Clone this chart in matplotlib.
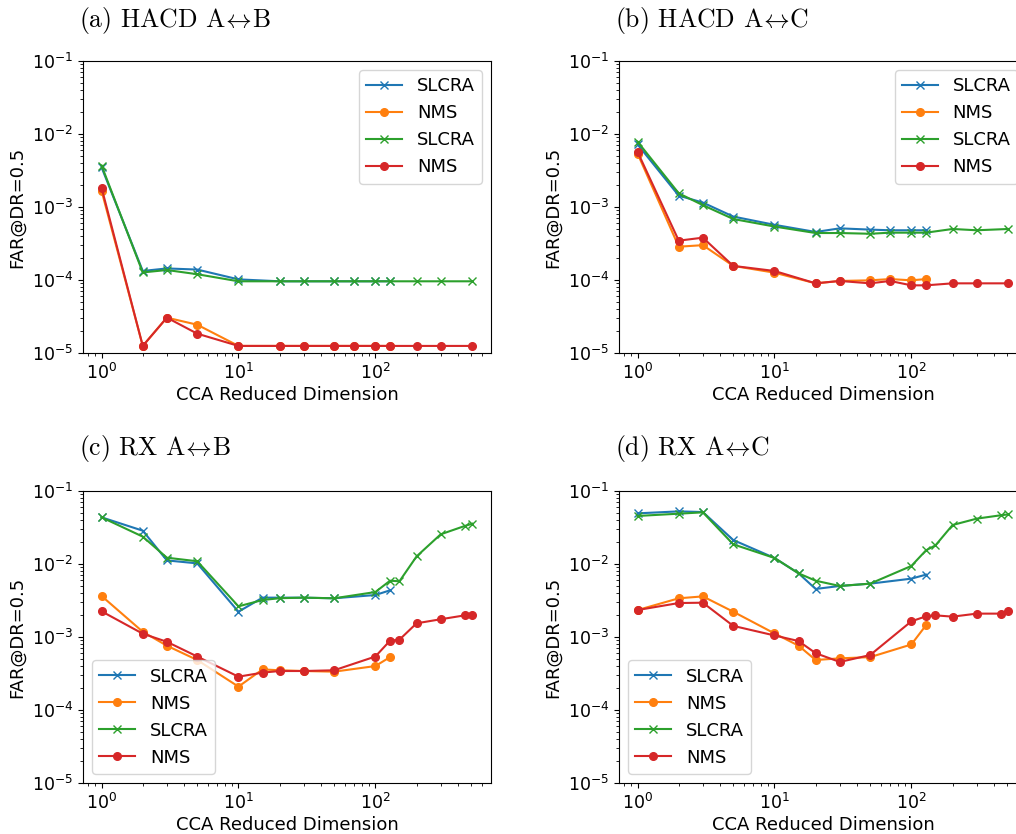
import matplotlib
matplotlib.use("Agg")
import matplotlib.pyplot as plt

plt.rcParams['mathtext.fontset'] = 'cm'
plt.rcParams['font.size'] = 13
plt.rcParams['xtick.labelsize'] = 12.5
plt.rcParams['ytick.labelsize'] = 12.5

# ---------------- data ----------------
titles = [r'(a) HACD A$\!\leftrightarrow\!$B', r'(b) HACD A$\!\leftrightarrow\!$C',
          r'(c) RX A$\!\leftrightarrow\!$B', r'(d) RX A$\!\leftrightarrow\!$C']
labels = ['SLCRA', 'NMS', 'SLCRA', 'NMS']

x_hacd_short = [1, 2, 3, 5, 10, 20, 30, 50, 70, 100, 128]
x_hacd_long = [1, 2, 3, 5, 10, 20, 30, 50, 70, 100, 128, 200, 300, 512]
x_rx_short = [1, 2, 3, 5, 10, 15, 20, 30, 50, 100, 128]
x_rx_long = [1, 2, 3, 5, 10, 15, 20, 30, 50, 100, 128, 150, 200, 300, 450, 512]

# (a) HACD A<->B
a_slcra1 = [3.5e-3, 1.33e-4, 1.44e-4, 1.39e-4, 1.02e-4, 9.6e-5, 9.6e-5, 9.6e-5, 9.6e-5, 9.6e-5, 9.6e-5]
a_nms1 = [1.67e-3, 1.25e-5, 3.05e-5, 2.44e-5, 1.25e-5, 1.25e-5, 1.25e-5, 1.25e-5, 1.25e-5, 1.25e-5, 1.25e-5]
a_slcra2 = [3.7e-3, 1.27e-4, 1.37e-4, 1.2e-4, 9.6e-5, 9.6e-5, 9.6e-5, 9.6e-5, 9.6e-5, 9.6e-5, 9.6e-5, 9.6e-5, 9.6e-5, 9.6e-5]
a_nms2 = [1.84e-3, 1.25e-5, 3.05e-5, 1.84e-5, 1.25e-5, 1.25e-5, 1.25e-5, 1.25e-5, 1.25e-5, 1.25e-5, 1.25e-5, 1.25e-5, 1.25e-5, 1.25e-5]

# (b) HACD A<->C
b_slcra1 = [7.2e-3, 1.43e-3, 1.15e-3, 7.4e-4, 5.7e-4, 4.55e-4, 5.1e-4, 4.9e-4, 4.8e-4, 4.8e-4, 4.8e-4]
b_nms1 = [5.4e-3, 2.86e-4, 3.0e-4, 1.56e-4, 1.26e-4, 9.0e-5, 9.7e-5, 9.9e-5, 1.03e-4, 9.9e-5, 1.03e-4]
b_slcra2 = [7.85e-3, 1.54e-3, 1.06e-3, 6.85e-4, 5.4e-4, 4.4e-4, 4.4e-4, 4.3e-4, 4.45e-4, 4.45e-4, 4.45e-4, 5.0e-4, 4.8e-4, 5.0e-4]
b_nms2 = [5.7e-3, 3.46e-4, 3.8e-4, 1.56e-4, 1.33e-4, 9.0e-5, 9.7e-5, 9.0e-5, 9.7e-5, 8.45e-5, 8.45e-5, 9.0e-5, 9.0e-5, 9.0e-5]

# (c) RX A<->B
c_slcra1 = [4.36e-2, 2.86e-2, 1.12e-2, 1.02e-2, 2.22e-3, 3.46e-3, 3.46e-3, 3.46e-3, 3.39e-3, 3.76e-3, 4.36e-3]
c_nms1 = [3.65e-3, 1.18e-3, 7.6e-4, 4.84e-4, 2.09e-4, 3.6e-4, 3.5e-4, 3.42e-4, 3.35e-4, 4.0e-4, 5.3e-4]
c_slcra2 = [4.36e-2, 2.37e-2, 1.22e-2, 1.09e-2, 2.63e-3, 3.21e-3, 3.4e-3, 3.46e-3, 3.39e-3, 4.13e-3, 5.9e-3, 5.8e-3, 1.27e-2, 2.55e-2, 3.32e-2, 3.57e-2]
c_nms2 = [2.25e-3, 1.11e-3, 8.6e-4, 5.4e-4, 2.86e-4, 3.25e-4, 3.42e-4, 3.42e-4, 3.5e-4, 5.4e-4, 8.9e-4, 9.2e-4, 1.54e-3, 1.75e-3, 1.98e-3, 2.0e-3]

# (d) RX A<->C
d_slcra1 = [4.94e-2, 5.26e-2, 5.15e-2, 2.13e-2, 1.21e-2, 7.45e-3, 4.55e-3, 5.0e-3, 5.38e-3, 6.3e-3, 7.15e-3]
d_nms1 = [2.34e-3, 3.39e-3, 3.6e-3, 2.22e-3, 1.12e-3, 7.6e-4, 4.84e-4, 5.1e-4, 5.3e-4, 7.9e-4, 1.45e-3]
d_slcra2 = [4.55e-2, 4.89e-2, 5.1e-2, 1.86e-2, 1.21e-2, 7.45e-3, 5.9e-3, 5.0e-3, 5.38e-3, 9.4e-3, 1.54e-2, 1.8e-2, 3.42e-2, 4.18e-2, 4.65e-2, 4.79e-2]
d_nms2 = [2.34e-3, 2.92e-3, 2.95e-3, 1.42e-3, 1.05e-3, 8.8e-4, 6.0e-4, 4.55e-4, 5.66e-4, 1.64e-3, 1.92e-3, 1.98e-3, 1.9e-3, 2.09e-3, 2.09e-3, 2.3e-3]

panels = [
    (x_hacd_short, x_hacd_long, a_slcra1, a_nms1, a_slcra2, a_nms2, 'upper right'),
    (x_hacd_short, x_hacd_long, b_slcra1, b_nms1, b_slcra2, b_nms2, 'upper right'),
    (x_rx_short, x_rx_long, c_slcra1, c_nms1, c_slcra2, c_nms2, 'lower left'),
    (x_rx_short, x_rx_long, d_slcra1, d_nms1, d_slcra2, d_nms2, 'lower left'),
]

W, H = 1016, 834
fig = plt.figure(figsize=(W / 100, H / 100), dpi=100)

# axes boxes in pixels: left, right, top, bottom
boxes = [(83, 491, 61, 353), (619, 1027, 61, 353),
         (83, 491, 491, 783), (619, 1027, 491, 783)]
title_pos = [(79, 20), (615, 20), (79, 448), (615, 448)]

for i, (xs, xl, s1, n1, s2, n2, loc) in enumerate(panels):
    l, r, t, b = boxes[i]
    ax = fig.add_axes([l / W, 1 - b / H, (r - l) / W, (b - t) / H])
    ax.plot(xs, s1, color='C0', marker='x', markersize=5.5, label=labels[0])
    ax.plot(xs, n1, color='C1', marker='o', markersize=5.5, label=labels[1])
    ax.plot(xl, s2, color='C2', marker='x', markersize=5.5, label=labels[2])
    ax.plot(xl, n2, color='C3', marker='o', markersize=5.5, label=labels[3])
    ax.set_xscale('log')
    ax.set_yscale('log')
    ax.set_ylim(1e-5, 1e-1)
    ax.set_xlabel('CCA Reduced Dimension', labelpad=2)
    ax.set_ylabel('FAR@DR=0.5')
    ax.legend(loc=loc, fontsize=13)
    tx, ty = title_pos[i]
    fig.text(tx / W, 1 - ty / H, titles[i], fontfamily='cmr10', fontsize=18.5,
             ha='left', va='center')

fig.savefig('out.png', dpi=100)
